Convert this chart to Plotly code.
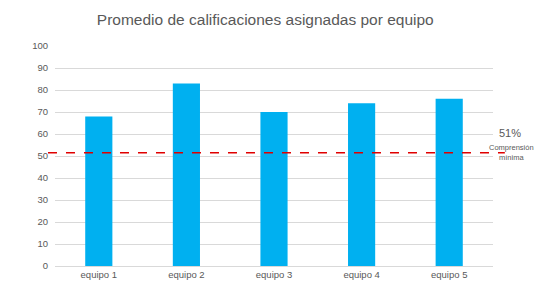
import plotly.graph_objects as go

categories = ["equipo 1", "equipo 2", "equipo 3", "equipo 4", "equipo 5"]
values = [68, 83, 70, 74, 76]
threshold = 51.5
threshold_label = "51%"
threshold_text = "Comprensión<br>mínima"
y_ticks = list(range(0, 101, 10))

fig = go.Figure()
fig.add_trace(go.Bar(x=categories, y=values, marker=dict(color="#00B0F0", line=dict(width=0)),
                     width=0.31))

fig.add_shape(type="line", xref="paper", yref="y", x0=-0.016, x1=1.027, y0=threshold, y1=threshold,
              line=dict(color="#E00000", width=1.5, dash="dash"), layer="above")

fig.add_annotation(xref="paper", yref="y", x=1.039, y=threshold + 9, text=threshold_label,
                   showarrow=False, xanchor="center", yanchor="middle",
                   font=dict(family="Liberation Sans, Arial", size=11, color="#595959"))
fig.add_annotation(xref="paper", yref="y", x=1.043, y=threshold, text=threshold_text,
                   showarrow=False, xanchor="center", yanchor="middle", align="center",
                   font=dict(family="Liberation Sans, Arial", size=7.5, color="#595959"))

fig.update_layout(
    width=547, height=296,
    margin=dict(l=55, r=54, t=46, b=30),
    paper_bgcolor="white", plot_bgcolor="white",
    showlegend=False,
    title=dict(text="Promedio de calificaciones asignadas por equipo", x=0.485, xanchor="center",
               y=1 - 20 / 296, yanchor="middle",
               font=dict(family="Liberation Sans, Arial", size=15.5, color="#595959")),
    bargap=0.69,
    font=dict(family="Liberation Sans, Arial", size=9.5, color="#595959"),
)
fig.update_yaxes(range=[0, 100], tickvals=y_ticks, showgrid=True, gridcolor="#D9D9D9", gridwidth=1,
                 zeroline=False, showline=False, ticks="", ticklabelstandoff=6,
                 tickfont=dict(size=9.5, color="#595959"))
fig.update_xaxes(showline=True, linecolor="#D9D9D9", linewidth=1, ticks="", showgrid=False,
                 tickfont=dict(size=9.5, color="#595959"))

fig.write_html("out.html", config={"displayModeBar": False},
               post_script="document.body.style.margin='0px';")
